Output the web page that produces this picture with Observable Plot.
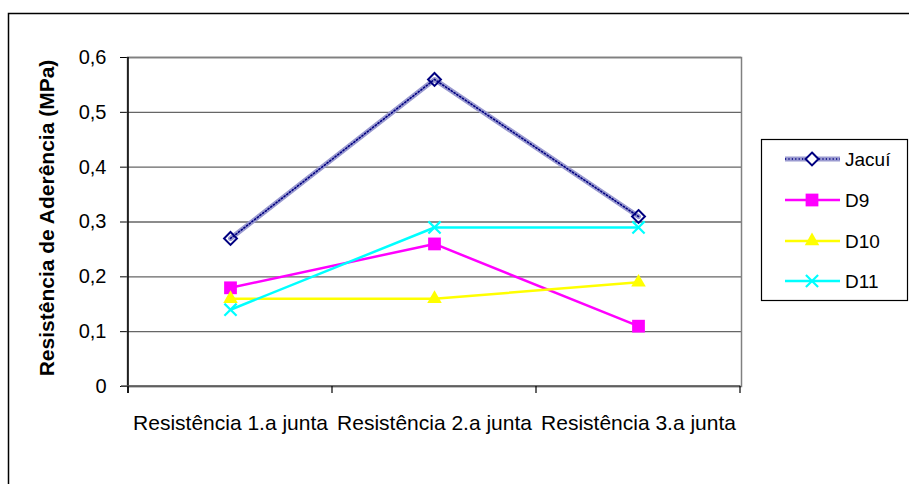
<!DOCTYPE html>
<html>
<head>
<meta charset="utf-8">
<script src="https://cdn.jsdelivr.net/npm/d3@7"></script>
<script src="https://cdn.jsdelivr.net/npm/@observablehq/plot@0.6"></script>
<style>
  html, body { margin: 0; padding: 0; background: #fff; }
  #chart { position: relative; width: 909px; height: 484px; overflow: hidden; }
</style>
</head>
<body>
<div id="chart"></div>
<script>
const categories = ["Resistência 1.a junta", "Resistência 2.a junta", "Resistência 3.a junta"];
const seriesNames = ["Jacuí", "D9", "D10", "D11"];
const jacui = [0.27, 0.56, 0.31];
const d9 = [0.18, 0.26, 0.11];
const d10 = [0.16, 0.16, 0.19];
const d11 = [0.14, 0.29, 0.29];
const yTicks = [0, 0.1, 0.2, 0.3, 0.4, 0.5, 0.6];
const yTitle = "Resistência de Aderência (MPa)";

const seriesValues = [jacui, d9, d10, d11];
const rows = seriesNames.map((s, i) => categories.map((c, j) => ({series: s, cat: c, value: seriesValues[i][j]})));
const byName = Object.fromEntries(seriesNames.map((s, i) => [s, rows[i]]));

const colors = {"Jacuí": "#000080", "D9": "#ff00ff", "D10": "#ffff00", "D11": "#00ffff"};
const symbols = {"Jacuí": "diamond2", "D9": "square", "D10": "triangle", "D11": "times"};
const radii = {"Jacuí": 5.8, "D9": 7.2, "D10": 5.4, "D11": 5.6};

const fmt = d => d === 0 ? "0" : d3.format(".1f")(d).replace(".", ",");

const W = 909, H = 484;
const plot = Plot.plot({
  width: W,
  height: H,
  marginLeft: 127,
  marginRight: 168,
  marginTop: 57,
  marginBottom: 98,
  style: {fontFamily: "'Liberation Sans', Arial, sans-serif", fontSize: "20px", color: "#000", background: "transparent", overflow: "visible"},
  x: {type: "point", domain: categories, padding: 0.5, axis: null},
  y: {domain: [0, 0.6], ticks: yTicks, tickFormat: fmt, tickSize: 7, tickPadding: 14, label: null},
  marks: [
    Plot.gridY(yTicks, {stroke: "#666", strokeOpacity: 1, strokeWidth: 1.4}),
    Plot.frame({stroke: "#808080", strokeWidth: 1.5}),
    Plot.text([yTitle], {frameAnchor: "left", textAnchor: "middle", rotate: -90, dx: -80, dy: -4, fontWeight: "bold", fontSize: 21}),
    Plot.text(categories, {x: d => d, frameAnchor: "bottom", textAnchor: "middle", dy: 37, fontSize: 21, lineAnchor: "middle"}),
    // Jacuí textured thick line
    Plot.line(byName["Jacuí"], {x: "cat", y: "value", stroke: "#9a9ad0", strokeWidth: 5}),
    Plot.line(byName["Jacuí"], {x: "cat", y: "value", stroke: "#000080", strokeWidth: 1.6, strokeDasharray: "1.2,2.2"}),
    Plot.dot(byName["Jacuí"], {x: "cat", y: "value", symbol: () => symbols["Jacuí"], r: radii["Jacuí"], stroke: colors["Jacuí"], strokeWidth: 2, fill: "none"}),
    Plot.line(byName["D9"], {x: "cat", y: "value", stroke: colors["D9"], strokeWidth: 2.5}),
    Plot.dot(byName["D9"], {x: "cat", y: "value", symbol: () => symbols["D9"], r: radii["D9"], fill: colors["D9"], stroke: "none"}),
    Plot.line(byName["D10"], {x: "cat", y: "value", stroke: colors["D10"], strokeWidth: 2.5}),
    Plot.dot(byName["D10"], {x: "cat", y: "value", symbol: () => symbols["D10"], r: radii["D10"], fill: colors["D10"], stroke: "none"}),
    Plot.line(byName["D11"], {x: "cat", y: "value", stroke: colors["D11"], strokeWidth: 2.5}),
    Plot.dot(byName["D11"], {x: "cat", y: "value", symbol: () => symbols["D11"], r: radii["D11"], stroke: colors["D11"], strokeWidth: 2.2, fill: "none"})
  ]
});

document.getElementById("chart").appendChild(plot);

// decorations: outer border, axis lines, category boundary ticks, legend
const svg = d3.select(plot);
const xs = plot.scale("x");
const ys = plot.scale("y");
const step = xs.step !== undefined ? xs.step : (xs.apply(categories[1]) - xs.apply(categories[0]));
const x0 = xs.apply(categories[0]) - step / 2;
const y0 = ys.apply(0), yTop = ys.apply(0.6);
const xRight = x0 + step * categories.length;

svg.insert("rect", ":first-child")
  .attr("x", 8.5).attr("y", 13.5).attr("width", 1000).attr("height", 1000)
  .attr("fill", "#fff").attr("stroke", "#000").attr("stroke-width", 1.5);

const deco = svg.append("g");
deco.append("line").attr("x1", x0).attr("x2", x0).attr("y1", yTop).attr("y2", y0 + 7)
  .attr("stroke", "#000").attr("stroke-width", 1.5);
deco.append("line").attr("x1", x0 - 7).attr("x2", xRight).attr("y1", y0).attr("y2", y0)
  .attr("stroke", "#555").attr("stroke-width", 1.6);
for (let k = 0; k <= categories.length; k++) {
  const xx = x0 + k * step;
  deco.append("line").attr("x1", xx).attr("x2", xx).attr("y1", y0).attr("y2", y0 + 7)
    .attr("stroke", "#000").attr("stroke-width", 1.2);
}

const leg = svg.append("g");
leg.append("rect").attr("x", 761.5).attr("y", 139.5).attr("width", 146).attr("height", 161)
  .attr("fill", "#fff").attr("stroke", "#000").attr("stroke-width", 1.2);
const legY = [159, 200, 241, 281];
const d3sym = {diamond2: d3.symbolDiamond2, square: d3.symbolSquare, triangle: d3.symbolTriangle, times: d3.symbolTimes};
seriesNames.forEach((s, i) => {
  const yy = legY[i];
  if (s === "Jacuí") {
    leg.append("line").attr("x1", 785).attr("x2", 840).attr("y1", yy).attr("y2", yy).attr("stroke", "#9a9ad0").attr("stroke-width", 5);
    leg.append("line").attr("x1", 785).attr("x2", 840).attr("y1", yy).attr("y2", yy).attr("stroke", "#000080").attr("stroke-width", 1.6).attr("stroke-dasharray", "1.2,2.2");
  } else {
    leg.append("line").attr("x1", 785).attr("x2", 840).attr("y1", yy).attr("y2", yy).attr("stroke", colors[s]).attr("stroke-width", 2.5);
  }
  const r = radii[s];
  const p = leg.append("path").attr("transform", `translate(812,${yy})`)
    .attr("d", d3.symbol(d3sym[symbols[s]], r * r * Math.PI)());
  if (s === "Jacuí") p.attr("fill", "#fff").attr("stroke", colors[s]).attr("stroke-width", 2);
  else if (s === "D11") p.attr("fill", "none").attr("stroke", colors[s]).attr("stroke-width", 2.2);
  else p.attr("fill", colors[s]);
  leg.append("text").attr("x", 845).attr("y", yy).attr("dy", "0.35em")
    .attr("text-anchor", "start").attr("font-size", 19).attr("fill", "#000").text(s);
});
</script>
</body>
</html>
